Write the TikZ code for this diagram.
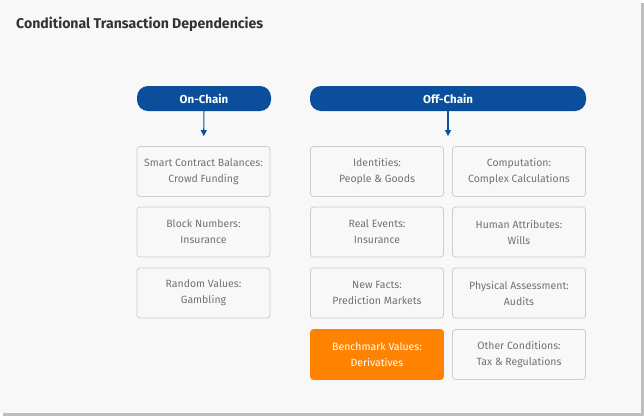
\documentclass[tikz,border=0pt]{standalone}
\usepackage{fontspec}
\setmainfont{Fira Sans}
\usepackage{tikz}
\usetikzlibrary{arrows.meta,positioning,calc}
\definecolor{Page}{HTML}{F8F8F8}
\definecolor{Shade}{HTML}{BEBEBE}
\definecolor{Ink}{HTML}{333333}
\definecolor{Muted}{HTML}{727272}
\definecolor{Edge}{HTML}{CCCCCC}
\definecolor{Blue}{HTML}{0B4F9C}
\definecolor{Orange}{HTML}{FF8300}

\begin{document}
\begin{tikzpicture}[x=1pt,y=-1pt,
  head/.style={rounded corners=11pt,fill=Blue,text=white,minimum height=25pt,font=\fontsize{11.5}{13}\selectfont\bfseries},
  item/.style={rounded corners=3pt,draw=Edge,line width=0.8pt,fill=Page,text=Muted,minimum width=133pt,minimum height=50pt,align=center,font=\fontsize{10.5}{16}\selectfont},
  hot/.style={item,draw=Orange,fill=Orange,text=white},
  arrow/.style={-{Triangle[length=6pt,width=6pt]},line width=1.1pt,draw=Blue,shorten >=10pt}
]
% page and its shadow
\fill[Shade] (3,3) rectangle (644,416);
\fill[Page] (0,0) rectangle (641,413);
\useasboundingbox (0,0) rectangle (644,416);

\node[anchor=base west,inner xsep=0pt,text=Ink,font=\fontsize{14.1}{17}\selectfont\bfseries] (title) at (16,28) {Conditional Transaction Dependencies};

\node[head,minimum width=134pt] (on) at (204,98.5) {On-Chain};
\node[head,minimum width=276pt] (off) at (448,98.5) {Off-Chain};

% on-chain column
\node[item] (l1) at (203.5,171.5) {Smart Contract Balances:\\Crowd Funding};
\node[item] (l2) at (203.5,232) {Block Numbers:\\Insurance};
\node[item] (l3) at (203.5,293) {Random Values:\\Gambling};

% off-chain columns
\node[item] (m1) at (377,171.5) {Identities:\\People \& Goods};
\node[item] (m2) at (377,232) {Real Events:\\Insurance};
\node[item] (m3) at (377,293) {New Facts:\\Prediction Markets};
\node[hot] (m4) at (377,354.5) {Benchmark Values:\\Derivatives};

\node[item] (r1) at (519,171.5) {Computation:\\Complex Calculations};
\node[item] (r2) at (519,232) {Human Attributes:\\Wills};
\node[item] (r3) at (519,293) {Physical Assessment:\\Audits};
\node[item] (r4) at (519,354.5) {Other Conditions:\\Tax \& Regulations};

\draw[arrow] (on) -- (l1);
\draw[arrow] (off.south) -- (off.south |- m1.north);
\end{tikzpicture}
\end{document}
